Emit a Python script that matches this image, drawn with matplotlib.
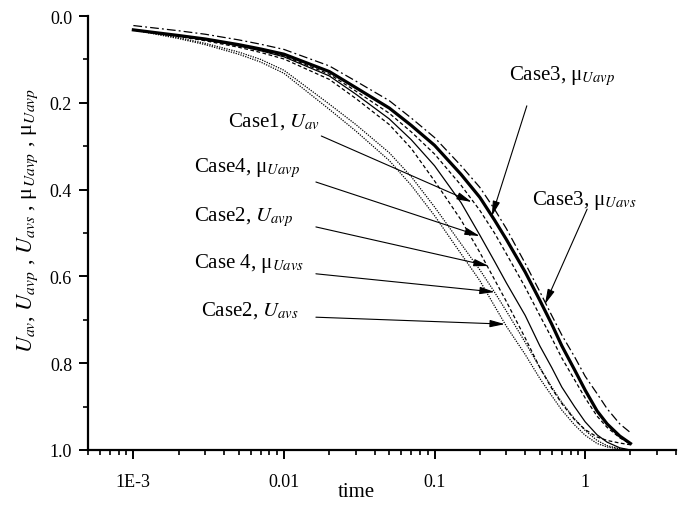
import matplotlib
matplotlib.use("Agg")
import matplotlib.pyplot as plt
from matplotlib.ticker import FixedLocator, FixedFormatter, LogLocator, NullFormatter, MultipleLocator

plt.rcParams['font.family'] = ['Liberation Serif', 'DejaVu Serif']
plt.rcParams['mathtext.fontset'] = 'stix'

# time grid (shared by all curves)
time = [0.001, 0.002, 0.003, 0.005, 0.007, 0.01, 0.02, 0.03, 0.05, 0.07,
        0.1, 0.15, 0.2, 0.25, 0.3, 0.4, 0.5, 0.6, 0.7, 0.85,
        1.0, 1.2, 1.4, 1.7, 2.0]

case3_mu_uavs = [0.022, 0.034, 0.042, 0.055, 0.065, 0.077, 0.115, 0.15, 0.195, 0.235,
                 0.28, 0.345, 0.395, 0.445, 0.49, 0.57, 0.635, 0.69, 0.735, 0.785,
                 0.83, 0.87, 0.905, 0.94, 0.96]
case3_mu_uavp = [0.032, 0.045, 0.053, 0.066, 0.076, 0.088, 0.128, 0.165, 0.212, 0.252,
                 0.298, 0.365, 0.418, 0.47, 0.515, 0.59, 0.655, 0.71, 0.76, 0.815,
                 0.862, 0.91, 0.94, 0.968, 0.985]
case1_uav = [0.032, 0.046, 0.055, 0.068, 0.079, 0.092, 0.134, 0.173, 0.224, 0.267,
             0.318, 0.39, 0.448, 0.5, 0.548, 0.625, 0.69, 0.742, 0.788, 0.838,
             0.88, 0.922, 0.948, 0.972, 0.986]
case4_mu_uavp = [0.032, 0.046, 0.055, 0.069, 0.08, 0.094, 0.138, 0.18, 0.237, 0.285,
                 0.345, 0.43, 0.505, 0.565, 0.615, 0.69, 0.76, 0.81, 0.855, 0.9,
                 0.935, 0.965, 0.982, 0.995, 1.0]
case2_uavp = [0.032, 0.047, 0.057, 0.072, 0.084, 0.099, 0.146, 0.19, 0.25, 0.305,
              0.38, 0.47, 0.545, 0.607, 0.658, 0.742, 0.81, 0.858, 0.893, 0.93,
              0.953, 0.97, 0.978, 0.984, 0.988]
case4_mu_uavs = [0.032, 0.05, 0.063, 0.083, 0.10, 0.125, 0.203, 0.25, 0.315, 0.37,
                 0.44, 0.525, 0.585, 0.636, 0.68, 0.752, 0.81, 0.855, 0.89, 0.928,
                 0.955, 0.978, 0.99, 0.997, 1.0]
case2_uavs = [0.032, 0.052, 0.066, 0.088, 0.106, 0.132, 0.215, 0.265, 0.333, 0.39,
              0.46, 0.548, 0.61, 0.668, 0.715, 0.78, 0.835, 0.875, 0.908, 0.942,
              0.966, 0.985, 0.993, 0.998, 1.0]

x_ticks = [1e-3, 1e-2, 1e-1, 1]
x_tick_labels = ['1E-3', '0.01', '0.1', '1']

fig = plt.figure(figsize=(6.91, 5.06), dpi=100)
ax = fig.add_axes([0.1274, 0.1087, 0.8506, 0.8577])

k = 'black'
ax.plot(time, case3_mu_uavs, color=k, lw=0.9, linestyle=(0, (7, 2.5, 1.5, 2.5)))
ax.plot(time, case3_mu_uavp, color=k, lw=2.3)
ax.plot(time, case1_uav, color=k, lw=0.9, linestyle=(0, (3, 2)))
ax.plot(time, case4_mu_uavp, color=k, lw=0.9)
ax.plot(time, case2_uavp, color=k, lw=0.9, linestyle=(0, (3, 2)))
ax.plot(time, case4_mu_uavs, color=k, lw=0.9, linestyle=(0, (1, 1)))
ax.plot(time, case2_uavs, color=k, lw=0.9, linestyle=(0, (1, 1)))

# annotations: text, arrow start, arrow tip, text anchor (left, baseline)
arrow = dict(arrowstyle='-|>,head_length=0.9,head_width=0.22', color=k, lw=0.8,
             shrinkA=0, shrinkB=0)
notes = [
    ('Case1, $U_{av}$', (0.0177, 0.2765), (0.1766, 0.4286), (0.00424, 0.253)),
    ('Case4, μ$_{Uavp}$', (0.0163, 0.3825), (0.1995, 0.507), (0.00251, 0.358)),
    ('Case2, $U_{avp}$', (0.0163, 0.486), (0.229, 0.576), (0.00251, 0.471)),
    ('Case 4, μ$_{Uavs}$', (0.0163, 0.594), (0.251, 0.636), (0.00251, 0.578)),
    ('Case2, $U_{avs}$', (0.0163, 0.694), (0.293, 0.71), (0.0028, 0.688)),
    ('Case3, μ$_{Uavp}$', (0.410, 0.207), (0.240, 0.461), (0.311, 0.145)),
    ('Case3, μ$_{Uavs}$', (1.031, 0.445), (0.541, 0.664), (0.443, 0.433)),
]
for txt, start, tip, tpos in notes:
    ax.annotate('', xy=tip, xytext=start, arrowprops=arrow)
    ax.text(tpos[0], tpos[1], txt, fontsize=15, ha='left', va='baseline')

ax.set_xscale('log')
ax.set_xlim(5e-4, 4)
ax.set_ylim(1.0, 0.0)

ax.xaxis.set_major_locator(FixedLocator(x_ticks))
ax.xaxis.set_major_formatter(FixedFormatter(x_tick_labels))
ax.xaxis.set_minor_locator(LogLocator(base=10, subs=range(2, 10), numticks=20))
ax.xaxis.set_minor_formatter(NullFormatter())
ax.yaxis.set_major_locator(MultipleLocator(0.2))
ax.yaxis.set_minor_locator(MultipleLocator(0.1))
ax.yaxis.set_major_formatter(plt.FuncFormatter(lambda v, p: f'{v:.1f}'))

for s in ['top', 'right']:
    ax.spines[s].set_visible(False)
for s in ['left', 'bottom']:
    ax.spines[s].set_linewidth(1.6)
ax.tick_params(which='major', direction='out', length=6.5, width=1.4, labelsize=13, pad=5)
ax.tick_params(which='minor', direction='out', length=3.5, width=1.2)
ax.tick_params(axis='x', which='major', pad=10)

ax.set_xlabel('time', fontsize=15)
ax.xaxis.set_label_coords(0.457, -0.074)
ax.set_ylabel(r'$U_{av}$, $U_{avp}$ , $U_{avs}$ , μ$_{Uavp}$ , μ$_{Uavp}$', fontsize=16)
ax.yaxis.set_label_coords(-0.082, 0.532)

fig.savefig('out.png', dpi=100)
